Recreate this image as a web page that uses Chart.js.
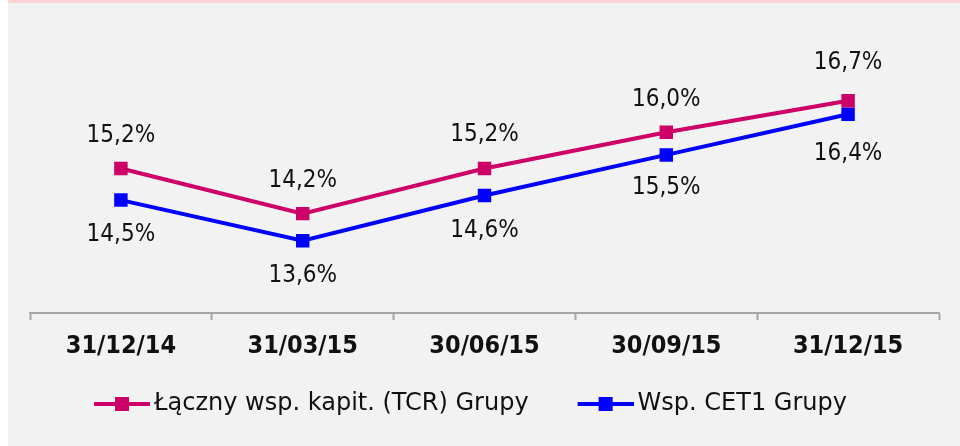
<!DOCTYPE html>
<html>
<head>
<meta charset="utf-8">
<script src="https://cdn.jsdelivr.net/npm/chart.js@4"></script>
<style>
  body { margin: 0; background: #fff; }
  #wrap { position: absolute; left: 8px; top: 0; width: 952px; height: 446px;
          background: #f2f2f2; border-top: 3px solid #ffd3d3; box-sizing: border-box; }
</style>
</head>
<body>
<div id="wrap"><canvas id="wykres" width="952" height="443"></canvas></div>
<script>
var kategorie = ['31/12/14', '31/03/15', '30/06/15', '30/09/15', '31/12/15'];
var tcr = [15.2, 14.2, 15.2, 16.0, 16.7];
var cet1 = [14.5, 13.6, 14.6, 15.5, 16.4];
var nazwy = ['Łączny wsp. kapit. (TCR) Grupy', 'Wsp. CET1 Grupy'];
var kolory = ['#cc0066', '#0000ff'];

var waska = "'DejaVu Sans Condensed', 'DejaVu Sans', sans-serif";
var szeroka = "'DejaVu Sans', sans-serif";

// ikonka legendy: linia z kwadratem (przesunieta w prawo w polu 64px)
function ikona(kolor) {
    var c = document.createElement('canvas');
    c.width = 80;
    c.height = 14;
    var g = c.getContext('2d');
    g.fillStyle = kolor;
    g.fillRect(24, 5, 56, 4);
    g.fillRect(45, 0, 14, 14);
    return c;
}
var ikony = kolory.map(ikona);

function fmt(v) {
    return v.toFixed(1).replace('.', ',') + '%';
}

// odstep etykiety od punktu (px)
var przesuniecie = [
    [-33, -33, -34, -33, -38],
    [35, 35, 35, 33, 39]
];

var etykiety = {
    id: 'etykiety',
    afterDatasetsDraw: function(chart) {
        var ctx = chart.ctx;
        ctx.save();
        ctx.font = '24px ' + waska;
        ctx.fillStyle = '#111';
        ctx.textAlign = 'center';
        ctx.textBaseline = 'middle';
        chart.data.datasets.forEach(function(ds, i) {
            chart.getDatasetMeta(i).data.forEach(function(pt, j) {
                ctx.fillText(fmt(ds.data[j]), pt.x, pt.y + przesuniecie[i][j]);
            });
        });
        ctx.restore();
    }
};

var ctx = document.getElementById('wykres').getContext('2d');
var chart = new Chart(ctx, {
    type: 'line',
    data: {
        labels: kategorie,
        datasets: [{
            label: nazwy[0],
            data: tcr,
            borderColor: kolory[0],
            backgroundColor: kolory[0],
            borderWidth: 4,
            pointStyle: 'rect',
            pointRadius: 9.5,
            pointHoverRadius: 9.5,
            pointBorderWidth: 0,
            tension: 0
        }, {
            label: nazwy[1],
            data: cet1,
            borderColor: kolory[1],
            backgroundColor: kolory[1],
            borderWidth: 4,
            pointStyle: 'rect',
            pointRadius: 9.5,
            pointHoverRadius: 9.5,
            pointBorderWidth: 0,
            tension: 0
        }]
    },
    options: {
        responsive: false,
        animation: false,
        layout: {
            padding: { left: -22, right: 21, top: 39, bottom: 20 }
        },
        scales: {
            x: {
                offset: true,
                grid: {
                    offset: true,
                    drawOnChartArea: false,
                    tickLength: 7,
                    color: '#a6a6a6',
                    tickWidth: 2
                },
                border: { color: '#a6a6a6', width: 2 },
                ticks: {
                    padding: 11,
                    color: '#111',
                    font: { family: waska, size: 25, weight: 'bold' }
                },
                afterFit: function(s) { s.height = 46; }
            },
            y: {
                min: 12,
                max: 18,
                grid: { display: false },
                border: { display: false },
                ticks: { display: false },
                afterFit: function(s) { s.width = 44; }
            }
        },
        plugins: {
            tooltip: { enabled: false },
            legend: {
                position: 'bottom',
                labels: {
                    usePointStyle: true,
                    pointStyleWidth: 64,
                    padding: 33,
                    color: '#111',
                    font: { family: szeroka, size: 24 },
                    generateLabels: function(chart) {
                        var items = Chart.defaults.plugins.legend.labels.generateLabels(chart);
                        items.forEach(function(it, i) {
                            it.pointStyle = ikony[i];
                        });
                        return items;
                    }
                }
            }
        }
    },
    plugins: [etykiety]
});
</script>
</body>
</html>
